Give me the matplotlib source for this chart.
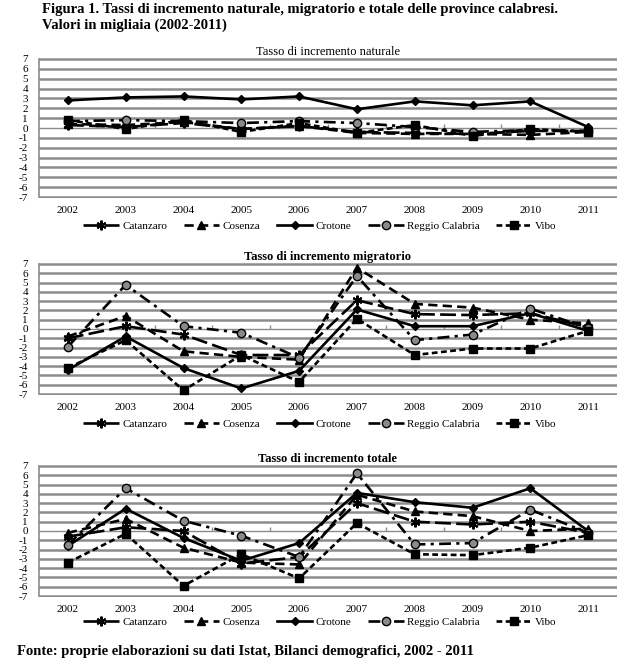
import matplotlib
matplotlib.use("Agg")
import matplotlib.pyplot as plt

plt.rcParams['font.family'] = ['Liberation Serif', 'DejaVu Serif']
plt.rcParams['axes.unicode_minus'] = False

anni = ["2002", "2003", "2004", "2005", "2006", "2007", "2008", "2009", "2010", "2011"]
province = ["Catanzaro", "Cosenza", "Crotone", "Reggio Calabria", "Vibo"]

# tasso di incremento naturale
naturale = {
    "Catanzaro":       [0.3, 0.1, 0.5, -0.1, 0.2, -0.4, -0.5, -0.6, -0.3, -0.3],
    "Cosenza":         [0.4, 0.3, 0.6, -0.1, 0.2, -0.5, -0.6, -0.6, -0.7, -0.4],
    "Crotone":         [2.8, 3.1, 3.2, 2.9, 3.2, 1.9, 2.7, 2.3, 2.7, 0.1],
    "Reggio Calabria": [0.7, 0.8, 0.7, 0.5, 0.7, 0.5, 0.1, -0.4, -0.2, -0.3],
    "Vibo":            [0.8, -0.1, 0.8, -0.4, 0.5, -0.5, 0.3, -0.8, -0.1, -0.4],
}
# tasso di incremento migratorio
migratorio = {
    "Catanzaro":       [-1.0, 0.3, -0.6, -2.8, -2.8, 3.1, 1.6, 1.5, 1.7, 0.2],
    "Cosenza":         [-0.8, 1.4, -2.4, -3.0, -3.3, 6.6, 2.7, 2.3, 1.0, 0.6],
    "Crotone":         [-4.4, -0.8, -4.2, -6.4, -4.5, 2.1, 0.3, 0.3, 1.7, -0.2],
    "Reggio Calabria": [-1.9, 4.75, 0.3, -0.4, -3.1, 5.7, -1.2, -0.6, 2.2, 0.1],
    "Vibo":            [-4.2, -1.2, -6.6, -2.8, -5.7, 1.1, -2.8, -2.1, -2.1, -0.2],
}
# tasso di incremento totale
totale = {
    "Catanzaro":       [-0.6, 0.4, 0.0, -3.5, -2.8, 3.0, 1.0, 0.7, 1.0, -0.2],
    "Cosenza":         [-0.2, 1.3, -1.8, -3.4, -3.6, 3.9, 2.1, 1.6, 0.0, 0.25],
    "Crotone":         [-1.6, 2.4, -0.75, -3.2, -1.3, 4.1, 3.1, 2.5, 4.6, 0.0],
    "Reggio Calabria": [-1.5, 4.6, 1.1, -0.5, -2.8, 6.2, -1.45, -1.3, 2.3, -0.2],
    "Vibo":            [-3.4, -0.3, -5.9, -2.5, -5.1, 0.85, -2.5, -2.6, -1.8, -0.45],
}

stili = {
    "Catanzaro":       dict(ls=(0, (6, 2)), marker=(6, 2, 0), ms=7, mfc='black', mew=1.5),
    "Cosenza":         dict(ls=(0, (3.5, 2)), marker='^', ms=6, mfc='black'),
    "Crotone":         dict(ls='-', marker='D', ms=4.5, mfc='black'),
    "Reggio Calabria": dict(ls=(0, (4.5, 2, 1.2, 2)), marker='o', ms=6, mfc='#8a8a8a', mew=1.0),
    "Vibo":            dict(ls=(0, (2.2, 1.3)), marker='s', ms=6, mfc='black'),
}

pannelli = [
    ("Tasso di incremento naturale", naturale, 58, 198, 'normal', 28),
    ("Tasso di incremento migratorio", migratorio, 263, 395, 'bold', 29),
    ("Tasso di incremento totale", totale, 465, 597, 'bold', 25),
]

W, H = 643, 672
fig = plt.figure(figsize=(W / 100, H / 100), dpi=100)
x = list(range(len(anni)))
griglia = '#8c8c8c'

for titolo, dati, top, bot, peso, leg_off in pannelli:
    ax = fig.add_axes([39 / W, 1 - bot / H, 578 / W, (bot - top) / H])
    for p in province:
        ax.plot(x, dati[p], color='black', lw=1.9, mec='black', label=p,
                dash_capstyle='butt', **stili[p])
    for v in range(-7, 8):
        if v != 0:
            ax.axhline(v, color=griglia, lw=1.8, zorder=0)
    ax.axhline(0, color=griglia, lw=1.0, zorder=0)
    ax.set_xlim(-0.5, 9.5)
    ax.set_ylim(-7.1, 7.1)
    ax.set_yticks(range(-7, 8))
    ax.set_yticklabels([str(v) for v in range(-7, 8)], fontsize=8)
    ax.set_xticks(x)
    ax.set_xticklabels(anni, fontsize=8)
    ax.tick_params(axis='x', length=0, pad=6)
    ax.tick_params(axis='y', length=0, pad=8)
    for s in ['top', 'right', 'bottom']:
        ax.spines[s].set_visible(False)
    ax.spines['left'].set_color(griglia)
    ax.spines['left'].set_linewidth(1.2)
    ax.spines['left'].set_bounds(-7, 7)

    # tacche sull'asse dello zero, tra le categorie
    asse0 = ax.secondary_xaxis(0.5)
    asse0.set_xticks([i + 0.5 for i in x[:-1]])
    asse0.set_xticklabels([])
    asse0.tick_params(axis='x', direction='out', length=3, color=griglia, width=1)
    for s in asse0.spines.values():
        s.set_visible(False)

    ax.set_title(titolo, fontsize=9, fontweight=peso, pad=0)
    h = bot - top
    ax.legend(loc='center', bbox_to_anchor=(0.486, -leg_off / h), ncol=5, frameon=False,
              fontsize=8, handlelength=3.2, handletextpad=0.3, columnspacing=1.5,
              borderaxespad=0, borderpad=0)

fig.text(42 / W, 1 - 3 / H,
         "Figura 1. Tassi di incremento naturale, migratorio e totale delle province calabresi.\n"
         "Valori in migliaia (2002-2011)",
         fontsize=10.5, fontweight='bold', va='top', ha='left', linespacing=1.2)
fig.text(17 / W, 1 - 651 / H,
         "Fonte: proprie elaborazioni su dati Istat, Bilanci demografici, 2002 - 2011",
         fontsize=10.5, fontweight='bold', va='center', ha='left')

fig.savefig("out.png", dpi=100)
